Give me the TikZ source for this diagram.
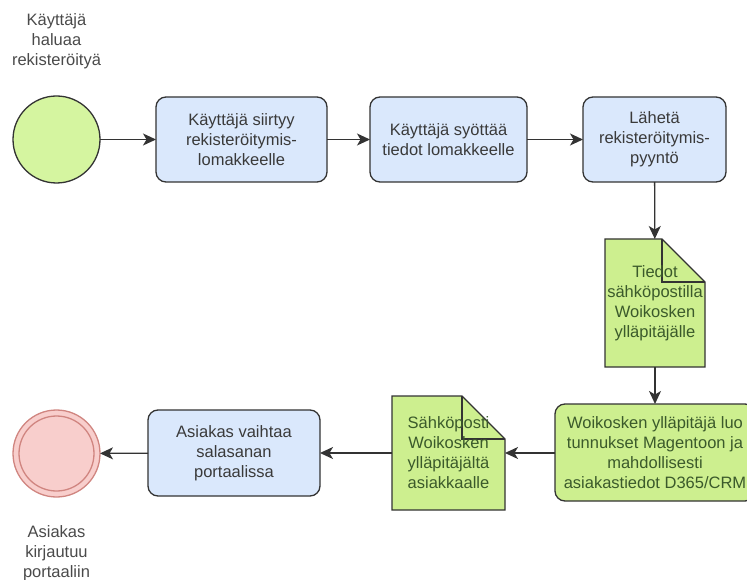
\documentclass[tikz,border=0pt]{standalone}
\usepackage{fontspec}
\setmainfont{Liberation Sans}
\usetikzlibrary{arrows.meta,calc,backgrounds}
\definecolor{bluefill}{HTML}{DAE8FC}
\definecolor{greenfill}{HTML}{CDEF8F}
\definecolor{startfill}{HTML}{D5F5A0}
\definecolor{redfill}{HTML}{F8CECC}
\definecolor{redline}{HTML}{D08580}
\definecolor{strokegray}{HTML}{333333}
\definecolor{txtgray}{HTML}{3A3A3A}
\definecolor{txtgreen}{HTML}{3B5A2B}
\definecolor{lblgray}{HTML}{4A4A4A}
\tikzset{
  every node/.style={font=\fontsize{16.5}{20}\selectfont, outer sep=0pt, align=center},
  task/.style={draw=strokegray, line width=1.3pt, rounded corners=10pt, fill=bluefill, text=txtgray, minimum width=171pt, minimum height=85pt},
  gtask/.style={draw=strokegray, line width=1.3pt, rounded corners=10pt, fill=greenfill, text=txtgreen, minimum width=200pt, minimum height=97pt},
  docbox/.style={draw=none, text=txtgreen, inner sep=0pt},
  docshape/.style={draw=strokegray, line width=1.3pt, fill=greenfill, line join=miter},
  docfold/.style={draw=strokegray, line width=1.3pt},
  conn/.style={draw=strokegray, line width=1.3pt, -{Stealth[length=13pt,width=12pt,inset=3.5pt]}},
  lbl/.style={text=lblgray, inner sep=0pt},
}
\begin{document}
\begin{tikzpicture}[x=1pt,y=-1pt]
\useasboundingbox (0,0) rectangle (747,580);

% start event
\node[circle, draw=strokegray, line width=1.3pt, fill=startfill, minimum size=87pt, inner sep=0pt] (start) at (56.5,139.5) {};
\node[lbl] (startlbl) at (56.5,41) {Käyttäjä\\haluaa\\rekisteröityä};

% top row tasks
\node[task] (t1) at (241.5,139.5) {Käyttäjä siirtyy\\rekisteröitymis-\\lomakkeelle};
\node[task, minimum width=157pt] (t2) at (448.5,139.5) {Käyttäjä syöttää\\tiedot lomakkeelle};
\node[task, minimum width=143pt] (t3) at (654.5,139.5) {Lähetä\\rekisteröitymis-\\pyyntö};

% document 1
\node[docbox, minimum width=100pt, minimum height=128pt] (d1) at (655,303) {Tiedot\\sähköpostilla\\Woikosken\\ylläpitäjälle};
% green task
\node[gtask] (t4) at (655,452.5) {Woikosken ylläpitäjä luo\\tunnukset Magentoon ja\\mahdollisesti\\asiakastiedot D365/CRM};
% document 2
\node[docbox, minimum width=113pt, minimum height=114pt] (d2) at (448.5,453) {Sähköposti\\Woikosken\\ylläpitäjältä\\asiakkaalle};
% blue task bottom
\node[task, minimum width=172pt, minimum height=86pt] (t5) at (234,453) {Asiakas vaihtaa\\salasanan\\portaalissa};

% end event
\node[circle, draw=redline, line width=1.3pt, fill=redfill, minimum size=87pt, inner sep=0pt] (end) at (56.5,453.5) {};
\node[circle, draw=redline, line width=1.3pt, minimum size=75pt, inner sep=0pt] (endin) at (end.center) {};
\node[lbl] (endlbl) at (56.5,553.5) {Asiakas\\kirjautuu\\portaaliin};

% document shapes
\begin{scope}[on background layer]
  \path[docshape] (d1.south west) -- (d1.north west) -- ($(d1.north east)+(-43,0)$) -- ($(d1.north east)+(0,43)$) -- (d1.south east) -- cycle;
  \draw[docfold] ($(d1.north east)+(-43,0)$) -- ($(d1.north east)+(-43,43)$) -- ($(d1.north east)+(0,43)$);
  \path[docshape] (d2.south west) -- (d2.north west) -- ($(d2.north east)+(-43,0)$) -- ($(d2.north east)+(0,43)$) -- (d2.south east) -- cycle;
  \draw[docfold] ($(d2.north east)+(-43,0)$) -- ($(d2.north east)+(-43,43)$) -- ($(d2.north east)+(0,43)$);
\end{scope}

% connectors
\draw[conn] (start) -- (t1);
\draw[conn] (t1) -- (t2);
\draw[conn] (t2) -- (t3);
\draw[conn] (t3) -- (d1);
\draw[conn] (d1) -- (t4);
\draw[conn] (t4.west |- d2.east) -- (d2.east);
\draw[conn] (d2) -- (t5);
\draw[conn] (t5) -- (end);
\end{tikzpicture}
\end{document}
